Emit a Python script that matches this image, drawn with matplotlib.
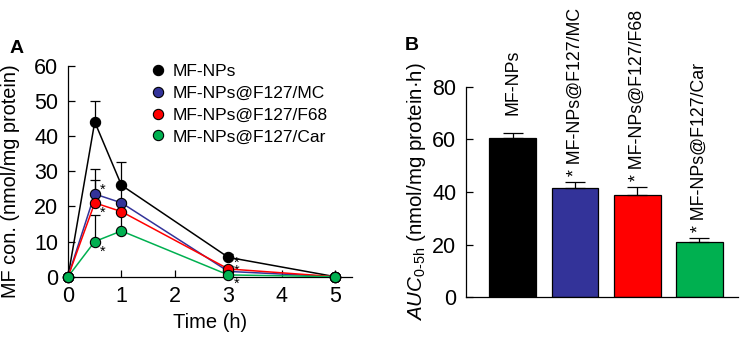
import numpy as np
import matplotlib.pyplot as plt
from matplotlib.lines import Line2D

plt.rcParams['font.family'] = ['Liberation Sans', 'DejaVu Sans']
plt.rcParams['mathtext.fontset'] = 'custom'
plt.rcParams['mathtext.rm'] = 'Liberation Sans'
plt.rcParams['mathtext.it'] = 'Liberation Sans:italic'

# ---- data, panel A ----
time_h = [0, 0.5, 1, 3, 5]
groups = ['MF-NPs', 'MF-NPs@F127/MC', 'MF-NPs@F127/F68', 'MF-NPs@F127/Car']
colors = ['#000000', '#333399', '#ff0000', '#00b050']
conc_np = [0, 44, 26, 5.5, 0]
conc_mc = [0, 23.5, 21, 1.5, 0]
conc_f68 = [0, 21, 18.5, 2.2, 0]
conc_car = [0, 10, 13, 0.5, 0]
err_np = [0, 6, 6.5, 1.0, 0]
err_mc = [0, 7, 5, 1.0, 0]
err_f68 = [0, 6.5, 3, 0.8, 0]
err_car = [0, 7.5, 5, 0.5, 0]

# significance marks in A (time, value, text); the two at 3 h sit stacked
star_t = [0.5, 0.5, 0.5, 3, 3]
star_v = [25.6, 19.2, 8.1, 3.6, -1.2]
star_txt = ['*', '*', '*', '*\n*', '*']

# ---- data, panel B ----
auc = [60.5, 41.5, 39, 21.2]
auc_err = [2.0, 2.2, 2.8, 1.5]
auc_star = ['', '* ', '* ', '* ']

fig = plt.figure(figsize=(7.5, 3.41), dpi=100)

# ---------- panel A ----------
axA = fig.add_axes([0.0907, 0.1886, 0.379, 0.619])
concs = [conc_np, conc_mc, conc_f68, conc_car]
errs = [err_np, err_mc, err_f68, err_car]
for i in range(4):
    axA.errorbar(time_h, concs[i], yerr=[np.zeros(5), errs[i]], fmt='none',
                 ecolor='black', elinewidth=0.9, capsize=3.5, capthick=0.9,
                 zorder=2 + i * 0.1)
for i in range(4):
    axA.plot(time_h, concs[i], '-', color=colors[i], lw=1.1, zorder=3 + i * 0.1)
for i in range(4):
    axA.plot(time_h, concs[i], 'o', color=colors[i], mec='black', mew=0.8,
             ms=7.4, clip_on=False, zorder=5 + i * 0.1)

for t, v, s in zip(star_t, star_v, star_txt):
    axA.text(t + 0.155, v - 0.9, s, fontsize=10.5, ha='center', va='center',
             linespacing=0.45, clip_on=False)

axA.set_xlim(0, 5.32)
axA.set_ylim(0, 60)
axA.set_xticks([0, 1, 2, 3, 4, 5])
axA.set_yticks([0, 10, 20, 30, 40, 50, 60])
axA.spines['top'].set_visible(False)
axA.spines['right'].set_visible(False)
for s in ['left', 'bottom']:
    axA.spines[s].set_linewidth(0.9)
axA.tick_params(direction='in', length=5, width=0.9, labelsize=15.5, pad=7)
axA.set_xlabel('Time (h)', fontsize=14.5, labelpad=4)
axA.set_ylabel('MF con. (nmol/mg protein)', fontsize=14.3)
axA.yaxis.set_label_coords(-0.17, 0.455)

handles = [Line2D([], [], ls='none', marker='o', color=c, mec='black', mew=0.8, ms=7.4)
           for c in colors]
axA.legend(handles, groups, loc='upper left', bbox_to_anchor=(0.286, 1.007),
           frameon=False, fontsize=12.5, handletextpad=0.36, labelspacing=0.38,
           handlelength=1.0, borderaxespad=0, borderpad=0)

fig.text(0.013, 0.845, 'A', fontsize=14, fontweight='bold')

# ---------- panel B ----------
axB = fig.add_axes([0.6213, 0.128, 0.3627, 0.6176])
xpos = np.arange(len(auc))
axB.bar(xpos, auc, width=0.75, color=colors, edgecolor='black', linewidth=0.9)
axB.errorbar(xpos, auc, yerr=[np.zeros(4), auc_err], fmt='none', ecolor='black',
             elinewidth=0.9, capsize=7, capthick=0.9)
label_y = np.array(auc) + np.array(auc_err) + 2.3
label_y[0] += 4.5
for i in range(4):
    axB.text(xpos[i], label_y[i], auc_star[i] + groups[i], rotation=90,
             ha='center', va='bottom', fontsize=12.8)

axB.set_xlim(-0.75, 3.62)
axB.set_ylim(0, 80)
axB.set_xticks([])
axB.set_yticks([0, 20, 40, 60, 80])
axB.spines['top'].set_visible(False)
axB.spines['right'].set_visible(False)
for s in ['left', 'bottom']:
    axB.spines[s].set_linewidth(0.9)
axB.tick_params(direction='in', length=5, width=0.9, labelsize=15.5, pad=7)
axB.set_ylabel(r'$\mathit{AUC}_{\mathregular{0\text{-}5h}}$ (nmol/mg protein·h)',
               fontsize=14.8, labelpad=3)

fig.text(0.54, 0.853, 'B', fontsize=14, fontweight='bold')

fig.savefig('out.png', dpi=100)
